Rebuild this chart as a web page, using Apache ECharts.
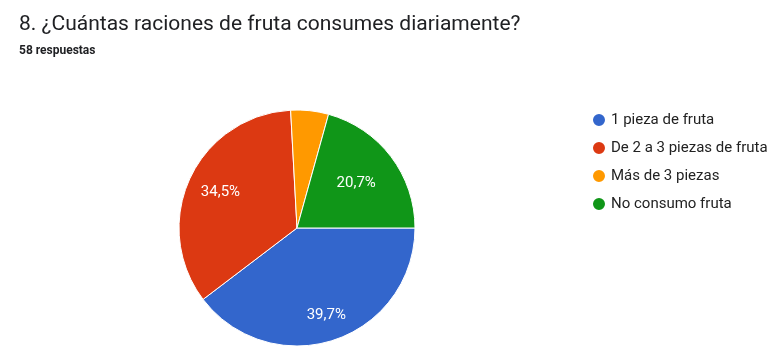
<!DOCTYPE html>
<html><head><meta charset="utf-8">
<script src="https://cdn.jsdelivr.net/npm/echarts@6/dist/echarts.min.js"></script>
<style>html,body{margin:0;padding:0;background:#fff}#c{width:780px;height:351px}</style>
</head><body><div id="c"></div>
<script>
const categories = ["1 pieza de fruta", "De 2 a 3 piezas de fruta", "Más de 3 piezas", "No consumo fruta"];
const values = [23, 20, 3, 12];
const colors = ["#3366cc", "#dc3912", "#ff9900", "#109618"];
const titleText = "8. ¿Cuántas raciones de fruta consumes diariamente?";
const subtitleText = "58 respuestas";

const CX = 297, CY = 228, R = 118;
const labelRadius = [0.74, 0.68, 0.5, 0.6];

const chart = echarts.init(document.getElementById('c'));
chart.setOption({
  animation: false,
  color: colors,
  title: {
    text: titleText, subtext: subtitleText, left: 14, top: 9, itemGap: 10,
    textStyle: {fontFamily: 'Roboto', fontSize: 21, fontWeight: 'normal', color: '#202124'},
    subtextStyle: {fontFamily: 'Roboto', fontSize: 12, fontWeight: 'bold', color: '#202124'}
  },
  legend: {
    orient: 'vertical', left: 586, top: 107, itemGap: 12, itemWidth: 14, itemHeight: 14,
    icon: 'circle',
    textStyle: {fontFamily: 'Roboto', fontSize: 15, color: '#222'},
    data: categories
  },
  series: [{
    type: 'pie', center: [CX, CY], radius: R, startAngle: 0, clockwise: true,
    itemStyle: {borderColor: '#fff', borderWidth: 1},
    label: {position: 'inside', formatter: p => p.percent >= 10 ? p.percent.toFixed(1).replace('.', ',') + '%' : '',
      color: '#fff', fontFamily: 'Roboto', fontSize: 15},
    labelLine: {show: false},
    labelLayout: function (params) {
      const r = params.labelRect;
      const lx = r.x + r.width / 2, ly = r.y + r.height / 2;
      const k = labelRadius[params.dataIndex] / 0.5;
      return {x: CX + (lx - CX) * k, y: CY + (ly - CY) * k};
    },
    data: categories.map((n, i) => ({name: n, value: values[i]}))
  }]
});
</script></body></html>
